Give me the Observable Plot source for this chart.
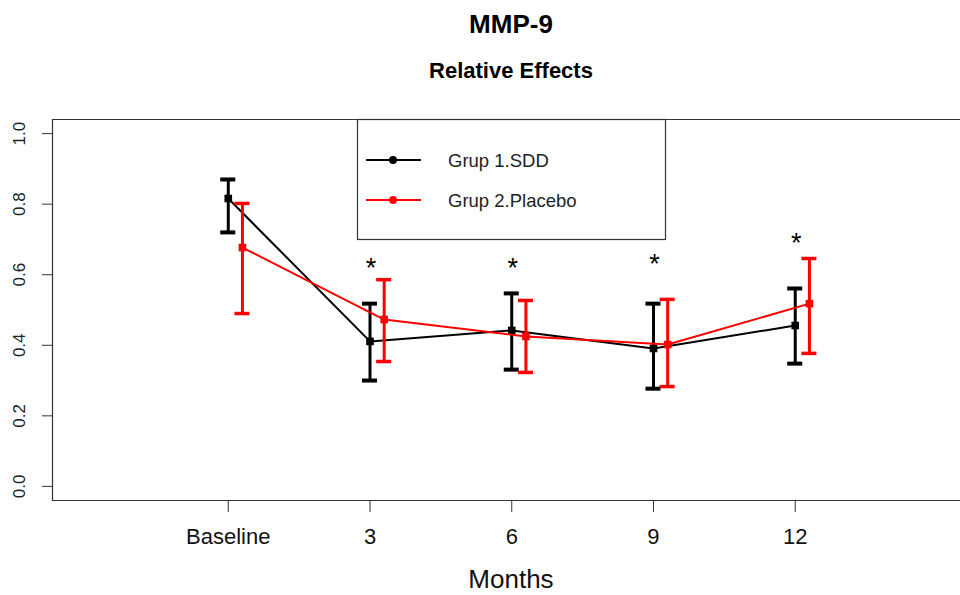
<!DOCTYPE html>
<html>
<head>
<meta charset="utf-8">
<script src="https://cdn.jsdelivr.net/npm/d3@7"></script>
<script src="https://cdn.jsdelivr.net/npm/@observablehq/plot@0.6"></script>
<style>
  html, body { margin: 0; padding: 0; background: #fff; }
  #wrap { position: relative; width: 960px; height: 595px; overflow: hidden; font-family: "Liberation Sans", Arial, sans-serif; }
  #overlay { position: absolute; left: 0; top: 0; pointer-events: none; }
</style>
</head>
<body>
<div id="wrap"></div>
<script>
// ---- data ----
const months = ["Baseline", "3", "6", "9", "12"];
const monthIdx = [0, 1, 2, 3, 4];
const sddMean = [0.816, 0.411, 0.442, 0.391, 0.456];
const sddLow  = [0.720, 0.300, 0.331, 0.277, 0.348];
const sddHigh = [0.870, 0.518, 0.547, 0.518, 0.561];
const plcMean = [0.677, 0.473, 0.425, 0.402, 0.518];
const plcLow  = [0.490, 0.354, 0.323, 0.283, 0.377];
const plcHigh = [0.802, 0.586, 0.527, 0.530, 0.646];
const starIdx = [1, 2, 3, 4];
const starY   = [0.635, 0.635, 0.646, 0.705];
const yTicks  = [0, 0.2, 0.4, 0.6, 0.8, 1.0];
const groups  = ["Grup 1.SDD", "Grup 2.Placebo"];
const colors  = ["#000000", "#ff0000"];

// ---- tables ----
const xLim = [-1.24, 5.24];
const yLim = [-0.04, 1.04];
const shift = [0, 0.1];
function table(g, mean, lo, hi) {
  return monthIdx.map((m, i) => ({ group: groups[g], x: m + shift[g], mean: mean[i], lo: lo[i], hi: hi[i] }));
}
const sdd = table(0, sddMean, sddLow, sddHigh);
const plc = table(1, plcMean, plcLow, plcHigh);
const stars = starIdx.map((m, i) => ({ x: m, y: starY[i] }));
const capHalf = 0.053;

function seriesMarks(d, color, capW) {
  return [
    Plot.line(d, { x: "x", y: "mean", stroke: color, strokeWidth: 2 }),
    Plot.ruleX(d, { x: "x", y1: "lo", y2: "hi", stroke: color, strokeWidth: 3 }),
    Plot.ruleY(d, { y: "hi", x1: r => r.x - capHalf, x2: r => r.x + capHalf, stroke: color, strokeWidth: capW }),
    Plot.ruleY(d, { y: "lo", x1: r => r.x - capHalf, x2: r => r.x + capHalf, stroke: color, strokeWidth: capW }),
    Plot.dot(d, { x: "x", y: "mean", fill: color, symbol: "square", r: 4.3 })
  ];
}

const chart = Plot.plot({
  width: 960,
  height: 595,
  marginLeft: 52,
  marginRight: 0,
  marginTop: 119,
  marginBottom: 95,
  style: { fontFamily: '"Liberation Sans", Arial, sans-serif', background: "#fff", color: "#000" },
  x: { type: "linear", domain: xLim, range: [52, 970.5] },
  y: { type: "linear", domain: yLim, range: [500, 119] },
  marks: [
    // box (left, top, bottom)
    Plot.ruleY([yLim[1], yLim[0]], { stroke: "#333", strokeWidth: 1.2 }),
    Plot.ruleX([xLim[0]], { stroke: "#333", strokeWidth: 1.2 }),
    // y axis
    Plot.axisY({ ticks: yTicks, tickSize: 10, tickFormat: () => "", label: null, stroke: "#333" }),
    Plot.text(yTicks, { y: d => d, text: d => d.toFixed(1), frameAnchor: "left", dx: -33, rotate: -90,
      textAnchor: "middle", lineAnchor: "middle", fontSize: 17, fill: "#222" }),
    // x axis
    Plot.axisX({ ticks: monthIdx, tickSize: 12, tickFormat: () => "", label: null, stroke: "#333" }),
    Plot.text(monthIdx, { x: d => d, text: d => months[d], frameAnchor: "bottom", dy: 43,
      lineAnchor: "bottom", fontSize: 22, fill: "#111" }),
    // series
    ...seriesMarks(sdd, colors[0], 4),
    ...seriesMarks(plc, colors[1], 3.5),
    // significance stars
    Plot.text(stars, { x: "x", y: "y", text: () => "*", fontSize: 27, dx: 1, dy: 6, lineAnchor: "middle", fill: "#000" })
  ]
});

const wrap = document.getElementById("wrap");
wrap.appendChild(chart);

// ---- titles and legend overlay ----
const ns = "http://www.w3.org/2000/svg";
const ov = document.createElementNS(ns, "svg");
ov.setAttribute("id", "overlay");
ov.setAttribute("width", 960);
ov.setAttribute("height", 595);
ov.setAttribute("font-family", '"Liberation Sans", Arial, sans-serif');
function el(tag, attrs, text) {
  const e = document.createElementNS(ns, tag);
  for (const k in attrs) e.setAttribute(k, attrs[k]);
  if (text != null) e.textContent = text;
  ov.appendChild(e);
  return e;
}
el("text", { x: 511, y: 33, "text-anchor": "middle", "font-size": 26, "font-weight": "bold", fill: "#000" }, "MMP-9");
el("text", { x: 511, y: 78, "text-anchor": "middle", "font-size": 22, "font-weight": "bold", fill: "#000" }, "Relative Effects");
el("text", { x: 511, y: 588, "text-anchor": "middle", "font-size": 26, fill: "#111" }, "Months");

// legend box
el("rect", { x: 357.5, y: 119.5, width: 308, height: 120, fill: "#fff", stroke: "#333", "stroke-width": 1.2 });
groups.forEach((g, i) => {
  const yy = 160 + i * 40;
  el("line", { x1: 366, x2: 421, y1: yy, y2: yy, stroke: colors[i], "stroke-width": 2 });
  el("circle", { cx: 393, cy: yy, r: 4, fill: colors[i] });
  el("text", { x: 448, y: yy + 7, "font-size": 18.5, fill: "#222" }, g);
});
wrap.appendChild(ov);
</script>
</body>
</html>
